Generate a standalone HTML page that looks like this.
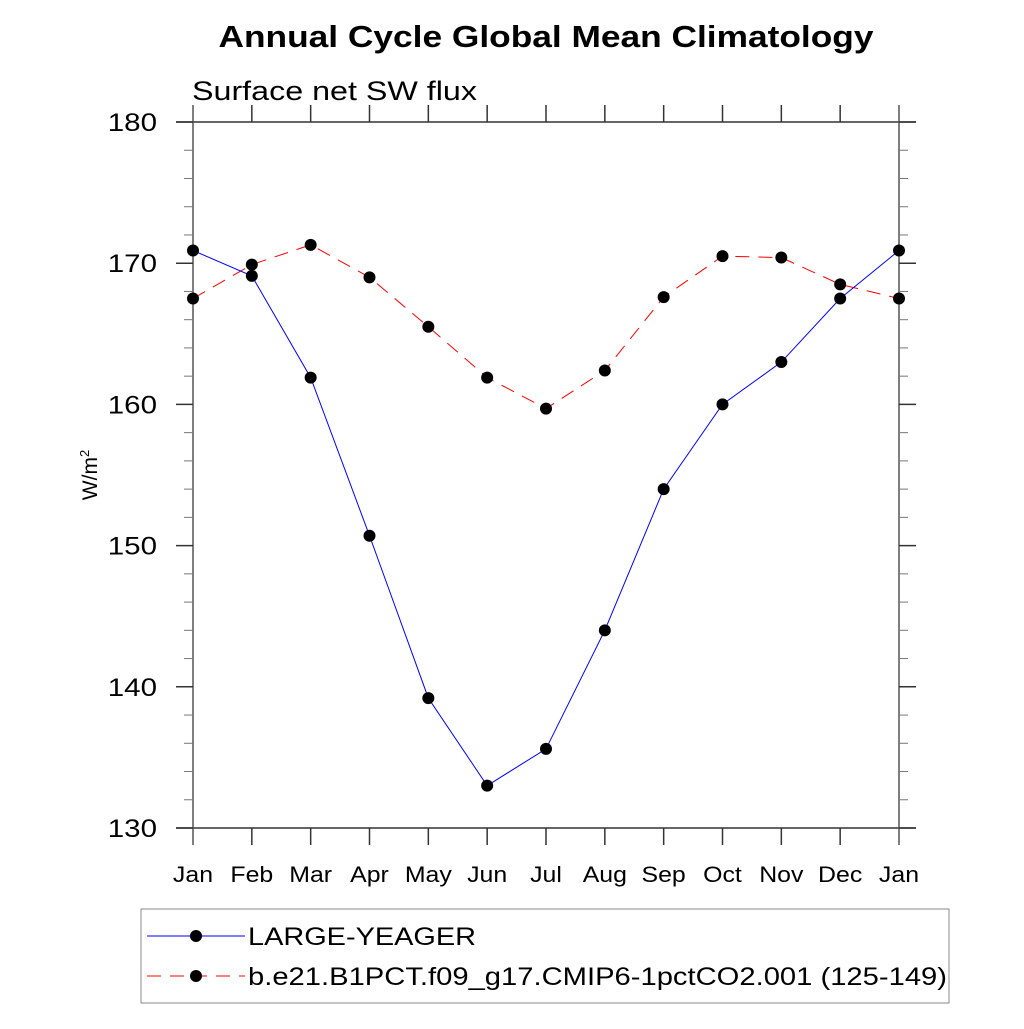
<!DOCTYPE html>
<html><head><meta charset="utf-8"><style>
body{margin:0;background:#fff}
svg text{font-family:"Liberation Sans",sans-serif}
</style></head><body>
<svg id="c" width="1024" height="1024" xmlns="http://www.w3.org/2000/svg">
<text x="546" y="47" font-size="31" font-weight="bold" text-anchor="middle" textLength="655" lengthAdjust="spacingAndGlyphs">Annual Cycle Global Mean Climatology</text>
<text x="192" y="100" font-size="27" textLength="285" lengthAdjust="spacingAndGlyphs">Surface net SW flux</text>
<text transform="translate(97,475) rotate(-90)" font-size="21" text-anchor="middle">W/m<tspan dy="-8" font-size="13">2</tspan></text>
<g id="axes"></g>
<g id="series"></g>
<g>
<rect x="141" y="909" width="808" height="94" fill="none" stroke="#888" stroke-width="1"/>
<g>
<line x1="147" y1="936" x2="245" y2="936" stroke="#00f" stroke-width="1"/>
<circle cx="196" cy="936" r="6" fill="#000"/>
<text x="248" y="945" font-size="25" textLength="228" lengthAdjust="spacingAndGlyphs">LARGE-YEAGER</text></g>
<g>
<line x1="147" y1="976" x2="245" y2="976" stroke="#f00" stroke-width="1" stroke-dasharray="14,9"/>
<circle cx="196" cy="976" r="6" fill="#000"/>
<text x="248" y="985" font-size="25" textLength="699" lengthAdjust="spacingAndGlyphs">b.e21.B1PCT.f09_g17.CMIP6-1pctCO2.001 (125-149)</text></g>
</g>
</svg>
<script>
const months=["Jan","Feb","Mar","Apr","May","Jun","Jul","Aug","Sep","Oct","Nov","Dec","Jan"];
const yTicks=[130,140,150,160,170,180];
const largeYeager=[170.9,169.1,161.9,150.7,139.2,133.0,135.6,144.0,154.0,160.0,163.0,167.5,170.9];
const pctCO2=[167.5,169.9,171.3,169.0,165.5,161.9,159.7,162.4,167.6,170.5,170.4,168.5,167.5];
const NS="http://www.w3.org/2000/svg";
const X0=193,X1=899,Y0=828,Y1=122,YMIN=130,YMAX=180;
const xs=i=>X0+(X1-X0)*i/(months.length-1);
const ys=v=>Y0-(v-YMIN)/(YMAX-YMIN)*(Y0-Y1);
function mk(t,a,p){const e=document.createElementNS(NS,t);for(const k in a)e.setAttribute(k,a[k]);p.appendChild(e);return e;}
function stretch(t,f){const w=t.getComputedTextLength();t.setAttribute('textLength',w*f);t.setAttribute('lengthAdjust','spacingAndGlyphs');}
const ax=document.getElementById('axes');
mk('line',{x1:176,y1:Y0,x2:916,y2:Y0,stroke:'#333','stroke-width':1.5},ax);
mk('line',{x1:176,y1:Y1,x2:916,y2:Y1,stroke:'#333','stroke-width':1.5},ax);
mk('line',{x1:X0,y1:105,x2:X0,y2:845,stroke:'#555','stroke-width':1.5},ax);
mk('line',{x1:X1,y1:105,x2:X1,y2:845,stroke:'#555','stroke-width':1.5},ax);
yTicks.forEach(v=>{
  const y=ys(v);
  const l=mk('line',{x1:176,y1:y,x2:X0,y2:y,stroke:'#333','stroke-width':1.5},ax);
  
  
  mk('line',{x1:X1,y1:y,x2:916,y2:y,stroke:'#333','stroke-width':1.5},ax);
  const t=mk('text',{x:157,y:y+9,'font-size':25,'text-anchor':'end'},ax);
  t.textContent=v;
  
  
  stretch(t,1.18);
});
for(let v=YMIN;v<YMAX;v+=2){ if(v%10===0)continue;
  const y=ys(v);
  mk('line',{x1:184,y1:y,x2:X0,y2:y,stroke:'#777','stroke-width':1},ax);
  mk('line',{x1:X1,y1:y,x2:908,y2:y,stroke:'#777','stroke-width':1},ax);
}
months.forEach((m,i)=>{
  const x=xs(i);
  if(i>0&&i<months.length-1){
    mk('line',{x1:x,y1:105,x2:x,y2:Y1,stroke:'#333','stroke-width':1.5},ax);
    mk('line',{x1:x,y1:Y0,x2:x,y2:845,stroke:'#333','stroke-width':1.5},ax);
  }
  const t=mk('text',{x:x,y:882,'font-size':22,'text-anchor':'middle'},ax);
  t.textContent=m;
  
  
  stretch(t,1.13);
});
const sg=document.getElementById('series');
function series(vals,color,dash,name){
  const g=mk('g',{},sg);
  
  
  const pl=mk('polyline',{points:vals.map((v,i)=>xs(i)+','+ys(v)).join(' '),fill:'none',stroke:color,'stroke-width':1},g);
  if(dash)pl.setAttribute('stroke-dasharray',dash);
  vals.forEach((v,i)=>{
    const c=mk('circle',{cx:xs(i),cy:ys(v),r:6,fill:'#000'},g);
    
    
  });
}
series(pctCO2,'#f00','14,9','series-1pctco2');
series(largeYeager,'#00f',null,'series-large-yeager');
</script>
</body></html>
